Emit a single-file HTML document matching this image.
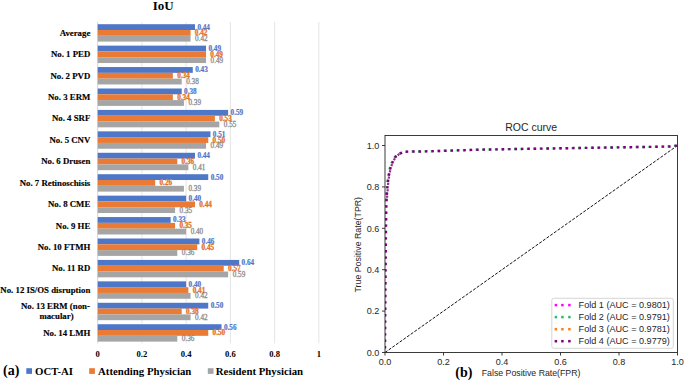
<!DOCTYPE html><html><head><meta charset="utf-8"><style>html,body{margin:0;padding:0;background:#fff;}svg{display:block;}</style></head><body>
<svg width="685" height="381" viewBox="0 0 685 381">
<rect width="685" height="381" fill="#fff"/>
<line x1="141.92" y1="22.00" x2="141.92" y2="343.45" stroke="#dedede" stroke-width="0.8"/>
<line x1="186.14" y1="22.00" x2="186.14" y2="343.45" stroke="#dedede" stroke-width="0.8"/>
<line x1="230.36" y1="22.00" x2="230.36" y2="343.45" stroke="#dedede" stroke-width="0.8"/>
<line x1="274.58" y1="22.00" x2="274.58" y2="343.45" stroke="#dedede" stroke-width="0.8"/>
<line x1="318.80" y1="22.00" x2="318.80" y2="343.45" stroke="#dedede" stroke-width="0.8"/>
<line x1="97.70" y1="22.00" x2="97.70" y2="343.45" stroke="#d0d0d0" stroke-width="0.9"/>
<text x="163.2" y="10.2" font-family='"Liberation Serif", serif' font-weight="bold" font-size="13" text-anchor="middle" fill="#000">IoU</text>
<rect x="97.70" y="24.20" width="97.28" height="5.80" fill="#4F77C8"/>
<text x="197.38" y="29.55" font-family='"Liberation Serif", serif' font-weight="bold" font-size="7.3" textLength="12.6" lengthAdjust="spacingAndGlyphs" fill="#4F77C8" stroke="#4F77C8" stroke-width="0.2">0.44</text>
<rect x="97.70" y="30.00" width="92.86" height="5.80" fill="#E97B35"/>
<text x="194.86" y="35.35" font-family='"Liberation Serif", serif' font-weight="bold" font-size="7.3" textLength="12.6" lengthAdjust="spacingAndGlyphs" fill="#E4732C" stroke="#E4732C" stroke-width="0.3">0.42</text>
<rect x="97.70" y="35.80" width="92.86" height="5.80" fill="#A5A5A5"/>
<text x="195.06" y="41.15" font-family='"Liberation Serif", serif' font-weight="normal" font-size="7.3" textLength="12.6" lengthAdjust="spacingAndGlyphs" fill="#8c8c8c" stroke="#8c8c8c" stroke-width="0.28">0.42</text>
<text x="90.3" y="35.72" font-family='"Liberation Serif", serif' font-weight="bold" font-size="8.8" text-anchor="end" fill="#000" stroke="#000" stroke-width="0.15">Average</text>
<rect x="97.70" y="45.63" width="108.34" height="5.80" fill="#4F77C8"/>
<text x="208.44" y="50.98" font-family='"Liberation Serif", serif' font-weight="bold" font-size="7.3" textLength="12.6" lengthAdjust="spacingAndGlyphs" fill="#4F77C8" stroke="#4F77C8" stroke-width="0.2">0.49</text>
<rect x="97.70" y="51.43" width="108.34" height="5.80" fill="#E97B35"/>
<text x="210.34" y="56.78" font-family='"Liberation Serif", serif' font-weight="bold" font-size="7.3" textLength="12.6" lengthAdjust="spacingAndGlyphs" fill="#E4732C" stroke="#E4732C" stroke-width="0.3">0.49</text>
<rect x="97.70" y="57.23" width="108.34" height="5.80" fill="#A5A5A5"/>
<text x="210.54" y="62.58" font-family='"Liberation Serif", serif' font-weight="normal" font-size="7.3" textLength="12.6" lengthAdjust="spacingAndGlyphs" fill="#8c8c8c" stroke="#8c8c8c" stroke-width="0.28">0.49</text>
<text x="90.3" y="57.14" font-family='"Liberation Serif", serif' font-weight="bold" font-size="8.8" text-anchor="end" fill="#000" stroke="#000" stroke-width="0.15">No. 1 PED</text>
<rect x="97.70" y="67.06" width="95.07" height="5.80" fill="#4F77C8"/>
<text x="195.17" y="72.41" font-family='"Liberation Serif", serif' font-weight="bold" font-size="7.3" textLength="12.6" lengthAdjust="spacingAndGlyphs" fill="#4F77C8" stroke="#4F77C8" stroke-width="0.2">0.43</text>
<rect x="97.70" y="72.86" width="75.17" height="5.80" fill="#E97B35"/>
<text x="177.17" y="78.21" font-family='"Liberation Serif", serif' font-weight="bold" font-size="7.3" textLength="12.6" lengthAdjust="spacingAndGlyphs" fill="#E4732C" stroke="#E4732C" stroke-width="0.3">0.34</text>
<rect x="97.70" y="78.66" width="84.02" height="5.80" fill="#A5A5A5"/>
<text x="186.22" y="84.01" font-family='"Liberation Serif", serif' font-weight="normal" font-size="7.3" textLength="12.6" lengthAdjust="spacingAndGlyphs" fill="#8c8c8c" stroke="#8c8c8c" stroke-width="0.28">0.38</text>
<text x="90.3" y="78.58" font-family='"Liberation Serif", serif' font-weight="bold" font-size="8.8" text-anchor="end" fill="#000" stroke="#000" stroke-width="0.15">No. 2 PVD</text>
<rect x="97.70" y="88.49" width="84.02" height="5.80" fill="#4F77C8"/>
<text x="184.12" y="93.84" font-family='"Liberation Serif", serif' font-weight="bold" font-size="7.3" textLength="12.6" lengthAdjust="spacingAndGlyphs" fill="#4F77C8" stroke="#4F77C8" stroke-width="0.2">0.38</text>
<rect x="97.70" y="94.29" width="75.17" height="5.80" fill="#E97B35"/>
<text x="177.17" y="99.64" font-family='"Liberation Serif", serif' font-weight="bold" font-size="7.3" textLength="12.6" lengthAdjust="spacingAndGlyphs" fill="#E4732C" stroke="#E4732C" stroke-width="0.3">0.34</text>
<rect x="97.70" y="100.09" width="86.23" height="5.80" fill="#A5A5A5"/>
<text x="188.43" y="105.44" font-family='"Liberation Serif", serif' font-weight="normal" font-size="7.3" textLength="12.6" lengthAdjust="spacingAndGlyphs" fill="#8c8c8c" stroke="#8c8c8c" stroke-width="0.28">0.39</text>
<text x="90.3" y="100.00" font-family='"Liberation Serif", serif' font-weight="bold" font-size="8.8" text-anchor="end" fill="#000" stroke="#000" stroke-width="0.15">No. 3 ERM</text>
<rect x="97.70" y="109.92" width="130.45" height="5.80" fill="#4F77C8"/>
<text x="230.55" y="115.27" font-family='"Liberation Serif", serif' font-weight="bold" font-size="7.3" textLength="12.6" lengthAdjust="spacingAndGlyphs" fill="#4F77C8" stroke="#4F77C8" stroke-width="0.2">0.59</text>
<rect x="97.70" y="115.72" width="117.18" height="5.80" fill="#E97B35"/>
<text x="219.18" y="121.07" font-family='"Liberation Serif", serif' font-weight="bold" font-size="7.3" textLength="12.6" lengthAdjust="spacingAndGlyphs" fill="#E4732C" stroke="#E4732C" stroke-width="0.3">0.53</text>
<rect x="97.70" y="121.52" width="121.61" height="5.80" fill="#A5A5A5"/>
<text x="223.81" y="126.87" font-family='"Liberation Serif", serif' font-weight="normal" font-size="7.3" textLength="12.6" lengthAdjust="spacingAndGlyphs" fill="#8c8c8c" stroke="#8c8c8c" stroke-width="0.28">0.55</text>
<text x="90.3" y="121.44" font-family='"Liberation Serif", serif' font-weight="bold" font-size="8.8" text-anchor="end" fill="#000" stroke="#000" stroke-width="0.15">No. 4 SRF</text>
<rect x="97.70" y="131.35" width="112.76" height="5.80" fill="#4F77C8"/>
<text x="212.86" y="136.70" font-family='"Liberation Serif", serif' font-weight="bold" font-size="7.3" textLength="12.6" lengthAdjust="spacingAndGlyphs" fill="#4F77C8" stroke="#4F77C8" stroke-width="0.2">0.51</text>
<rect x="97.70" y="137.15" width="110.55" height="5.80" fill="#E97B35"/>
<text x="212.55" y="142.50" font-family='"Liberation Serif", serif' font-weight="bold" font-size="7.3" textLength="12.6" lengthAdjust="spacingAndGlyphs" fill="#E4732C" stroke="#E4732C" stroke-width="0.3">0.50</text>
<rect x="97.70" y="142.95" width="108.34" height="5.80" fill="#A5A5A5"/>
<text x="210.54" y="148.30" font-family='"Liberation Serif", serif' font-weight="normal" font-size="7.3" textLength="12.6" lengthAdjust="spacingAndGlyphs" fill="#8c8c8c" stroke="#8c8c8c" stroke-width="0.28">0.49</text>
<text x="90.3" y="142.87" font-family='"Liberation Serif", serif' font-weight="bold" font-size="8.8" text-anchor="end" fill="#000" stroke="#000" stroke-width="0.15">No. 5 CNV</text>
<rect x="97.70" y="152.78" width="97.28" height="5.80" fill="#4F77C8"/>
<text x="197.38" y="158.13" font-family='"Liberation Serif", serif' font-weight="bold" font-size="7.3" textLength="12.6" lengthAdjust="spacingAndGlyphs" fill="#4F77C8" stroke="#4F77C8" stroke-width="0.2">0.44</text>
<rect x="97.70" y="158.58" width="79.60" height="5.80" fill="#E97B35"/>
<text x="181.60" y="163.93" font-family='"Liberation Serif", serif' font-weight="bold" font-size="7.3" textLength="12.6" lengthAdjust="spacingAndGlyphs" fill="#E4732C" stroke="#E4732C" stroke-width="0.3">0.36</text>
<rect x="97.70" y="164.38" width="90.65" height="5.80" fill="#A5A5A5"/>
<text x="192.85" y="169.73" font-family='"Liberation Serif", serif' font-weight="normal" font-size="7.3" textLength="12.6" lengthAdjust="spacingAndGlyphs" fill="#8c8c8c" stroke="#8c8c8c" stroke-width="0.28">0.41</text>
<text x="90.3" y="164.29" font-family='"Liberation Serif", serif' font-weight="bold" font-size="8.8" text-anchor="end" fill="#000" stroke="#000" stroke-width="0.15">No. 6 Drusen</text>
<rect x="97.70" y="174.21" width="110.55" height="5.80" fill="#4F77C8"/>
<text x="210.65" y="179.56" font-family='"Liberation Serif", serif' font-weight="bold" font-size="7.3" textLength="12.6" lengthAdjust="spacingAndGlyphs" fill="#4F77C8" stroke="#4F77C8" stroke-width="0.2">0.50</text>
<rect x="97.70" y="180.01" width="57.49" height="5.80" fill="#E97B35"/>
<text x="159.49" y="185.36" font-family='"Liberation Serif", serif' font-weight="bold" font-size="7.3" textLength="12.6" lengthAdjust="spacingAndGlyphs" fill="#E4732C" stroke="#E4732C" stroke-width="0.3">0.26</text>
<rect x="97.70" y="185.81" width="86.23" height="5.80" fill="#A5A5A5"/>
<text x="188.43" y="191.16" font-family='"Liberation Serif", serif' font-weight="normal" font-size="7.3" textLength="12.6" lengthAdjust="spacingAndGlyphs" fill="#8c8c8c" stroke="#8c8c8c" stroke-width="0.28">0.39</text>
<text x="90.3" y="185.72" font-family='"Liberation Serif", serif' font-weight="bold" font-size="8.8" text-anchor="end" fill="#000" stroke="#000" stroke-width="0.15">No. 7 Retinoschisis</text>
<rect x="97.70" y="195.64" width="88.44" height="5.80" fill="#4F77C8"/>
<text x="188.54" y="200.99" font-family='"Liberation Serif", serif' font-weight="bold" font-size="7.3" textLength="12.6" lengthAdjust="spacingAndGlyphs" fill="#4F77C8" stroke="#4F77C8" stroke-width="0.2">0.40</text>
<rect x="97.70" y="201.44" width="97.28" height="5.80" fill="#E97B35"/>
<text x="199.28" y="206.79" font-family='"Liberation Serif", serif' font-weight="bold" font-size="7.3" textLength="12.6" lengthAdjust="spacingAndGlyphs" fill="#E4732C" stroke="#E4732C" stroke-width="0.3">0.44</text>
<rect x="97.70" y="207.24" width="77.38" height="5.80" fill="#A5A5A5"/>
<text x="179.58" y="212.59" font-family='"Liberation Serif", serif' font-weight="normal" font-size="7.3" textLength="12.6" lengthAdjust="spacingAndGlyphs" fill="#8c8c8c" stroke="#8c8c8c" stroke-width="0.28">0.35</text>
<text x="90.3" y="207.16" font-family='"Liberation Serif", serif' font-weight="bold" font-size="8.8" text-anchor="end" fill="#000" stroke="#000" stroke-width="0.15">No. 8 CME</text>
<rect x="97.70" y="217.07" width="72.96" height="5.80" fill="#4F77C8"/>
<text x="173.06" y="222.42" font-family='"Liberation Serif", serif' font-weight="bold" font-size="7.3" textLength="12.6" lengthAdjust="spacingAndGlyphs" fill="#4F77C8" stroke="#4F77C8" stroke-width="0.2">0.33</text>
<rect x="97.70" y="222.87" width="77.38" height="5.80" fill="#E97B35"/>
<text x="179.38" y="228.22" font-family='"Liberation Serif", serif' font-weight="bold" font-size="7.3" textLength="12.6" lengthAdjust="spacingAndGlyphs" fill="#E4732C" stroke="#E4732C" stroke-width="0.3">0.35</text>
<rect x="97.70" y="228.67" width="88.44" height="5.80" fill="#A5A5A5"/>
<text x="190.64" y="234.02" font-family='"Liberation Serif", serif' font-weight="normal" font-size="7.3" textLength="12.6" lengthAdjust="spacingAndGlyphs" fill="#8c8c8c" stroke="#8c8c8c" stroke-width="0.28">0.40</text>
<text x="90.3" y="228.59" font-family='"Liberation Serif", serif' font-weight="bold" font-size="8.8" text-anchor="end" fill="#000" stroke="#000" stroke-width="0.15">No. 9 HE</text>
<rect x="97.70" y="238.50" width="101.71" height="5.80" fill="#4F77C8"/>
<text x="201.81" y="243.85" font-family='"Liberation Serif", serif' font-weight="bold" font-size="7.3" textLength="12.6" lengthAdjust="spacingAndGlyphs" fill="#4F77C8" stroke="#4F77C8" stroke-width="0.2">0.46</text>
<rect x="97.70" y="244.30" width="99.50" height="5.80" fill="#E97B35"/>
<text x="201.50" y="249.65" font-family='"Liberation Serif", serif' font-weight="bold" font-size="7.3" textLength="12.6" lengthAdjust="spacingAndGlyphs" fill="#E4732C" stroke="#E4732C" stroke-width="0.3">0.45</text>
<rect x="97.70" y="250.10" width="79.60" height="5.80" fill="#A5A5A5"/>
<text x="181.80" y="255.45" font-family='"Liberation Serif", serif' font-weight="normal" font-size="7.3" textLength="12.6" lengthAdjust="spacingAndGlyphs" fill="#8c8c8c" stroke="#8c8c8c" stroke-width="0.28">0.36</text>
<text x="90.3" y="250.02" font-family='"Liberation Serif", serif' font-weight="bold" font-size="8.8" text-anchor="end" fill="#000" stroke="#000" stroke-width="0.15">No. 10 FTMH</text>
<rect x="97.70" y="259.93" width="141.50" height="5.80" fill="#4F77C8"/>
<text x="241.60" y="265.28" font-family='"Liberation Serif", serif' font-weight="bold" font-size="7.3" textLength="12.6" lengthAdjust="spacingAndGlyphs" fill="#4F77C8" stroke="#4F77C8" stroke-width="0.2">0.64</text>
<rect x="97.70" y="265.73" width="126.03" height="5.80" fill="#E97B35"/>
<text x="228.03" y="271.08" font-family='"Liberation Serif", serif' font-weight="bold" font-size="7.3" textLength="12.6" lengthAdjust="spacingAndGlyphs" fill="#E4732C" stroke="#E4732C" stroke-width="0.3">0.57</text>
<rect x="97.70" y="271.53" width="130.45" height="5.80" fill="#A5A5A5"/>
<text x="232.65" y="276.88" font-family='"Liberation Serif", serif' font-weight="normal" font-size="7.3" textLength="12.6" lengthAdjust="spacingAndGlyphs" fill="#8c8c8c" stroke="#8c8c8c" stroke-width="0.28">0.59</text>
<text x="90.3" y="271.44" font-family='"Liberation Serif", serif' font-weight="bold" font-size="8.8" text-anchor="end" fill="#000" stroke="#000" stroke-width="0.15">No. 11 RD</text>
<rect x="97.70" y="281.36" width="88.44" height="5.80" fill="#4F77C8"/>
<text x="188.54" y="286.71" font-family='"Liberation Serif", serif' font-weight="bold" font-size="7.3" textLength="12.6" lengthAdjust="spacingAndGlyphs" fill="#4F77C8" stroke="#4F77C8" stroke-width="0.2">0.40</text>
<rect x="97.70" y="287.16" width="90.65" height="5.80" fill="#E97B35"/>
<text x="192.65" y="292.51" font-family='"Liberation Serif", serif' font-weight="bold" font-size="7.3" textLength="12.6" lengthAdjust="spacingAndGlyphs" fill="#E4732C" stroke="#E4732C" stroke-width="0.3">0.41</text>
<rect x="97.70" y="292.96" width="92.86" height="5.80" fill="#A5A5A5"/>
<text x="195.06" y="298.31" font-family='"Liberation Serif", serif' font-weight="normal" font-size="7.3" textLength="12.6" lengthAdjust="spacingAndGlyphs" fill="#8c8c8c" stroke="#8c8c8c" stroke-width="0.28">0.42</text>
<text x="90.3" y="292.87" font-family='"Liberation Serif", serif' font-weight="bold" font-size="8.8" text-anchor="end" fill="#000" stroke="#000" stroke-width="0.15">No. 12 IS/OS disruption</text>
<rect x="97.70" y="302.79" width="110.55" height="5.80" fill="#4F77C8"/>
<text x="210.65" y="308.14" font-family='"Liberation Serif", serif' font-weight="bold" font-size="7.3" textLength="12.6" lengthAdjust="spacingAndGlyphs" fill="#4F77C8" stroke="#4F77C8" stroke-width="0.2">0.50</text>
<rect x="97.70" y="308.59" width="84.02" height="5.80" fill="#E97B35"/>
<text x="186.02" y="313.94" font-family='"Liberation Serif", serif' font-weight="bold" font-size="7.3" textLength="12.6" lengthAdjust="spacingAndGlyphs" fill="#E4732C" stroke="#E4732C" stroke-width="0.3">0.38</text>
<rect x="97.70" y="314.39" width="92.86" height="5.80" fill="#A5A5A5"/>
<text x="195.06" y="319.74" font-family='"Liberation Serif", serif' font-weight="normal" font-size="7.3" textLength="12.6" lengthAdjust="spacingAndGlyphs" fill="#8c8c8c" stroke="#8c8c8c" stroke-width="0.28">0.42</text>
<text x="89.9" y="308.90" font-family='"Liberation Serif", serif' font-weight="bold" font-size="8.8" text-anchor="end" fill="#000" stroke="#000" stroke-width="0.15">No. 13 ERM (non-</text>
<text x="56.5" y="318.90" font-family='"Liberation Serif", serif' font-weight="bold" font-size="8.8" text-anchor="middle" fill="#000" stroke="#000" stroke-width="0.15">macular)</text>
<rect x="97.70" y="324.22" width="123.82" height="5.80" fill="#4F77C8"/>
<text x="223.92" y="329.57" font-family='"Liberation Serif", serif' font-weight="bold" font-size="7.3" textLength="12.6" lengthAdjust="spacingAndGlyphs" fill="#4F77C8" stroke="#4F77C8" stroke-width="0.2">0.56</text>
<rect x="97.70" y="330.02" width="110.55" height="5.80" fill="#E97B35"/>
<text x="212.55" y="335.37" font-family='"Liberation Serif", serif' font-weight="bold" font-size="7.3" textLength="12.6" lengthAdjust="spacingAndGlyphs" fill="#E4732C" stroke="#E4732C" stroke-width="0.3">0.50</text>
<rect x="97.70" y="335.82" width="79.60" height="5.80" fill="#A5A5A5"/>
<text x="181.80" y="341.17" font-family='"Liberation Serif", serif' font-weight="normal" font-size="7.3" textLength="12.6" lengthAdjust="spacingAndGlyphs" fill="#8c8c8c" stroke="#8c8c8c" stroke-width="0.28">0.36</text>
<text x="90.3" y="335.73" font-family='"Liberation Serif", serif' font-weight="bold" font-size="8.8" text-anchor="end" fill="#000" stroke="#000" stroke-width="0.15">No. 14 LMH</text>
<text x="97.70" y="356.7" font-family='"Liberation Serif", serif' font-weight="bold" font-size="8.6" text-anchor="middle" fill="#000">0</text>
<text x="141.92" y="356.7" font-family='"Liberation Serif", serif' font-weight="bold" font-size="8.6" text-anchor="middle" fill="#000">0.2</text>
<text x="186.14" y="356.7" font-family='"Liberation Serif", serif' font-weight="bold" font-size="8.6" text-anchor="middle" fill="#000">0.4</text>
<text x="230.36" y="356.7" font-family='"Liberation Serif", serif' font-weight="bold" font-size="8.6" text-anchor="middle" fill="#000">0.6</text>
<text x="274.58" y="356.7" font-family='"Liberation Serif", serif' font-weight="bold" font-size="8.6" text-anchor="middle" fill="#000">0.8</text>
<text x="318.80" y="356.7" font-family='"Liberation Serif", serif' font-weight="bold" font-size="8.6" text-anchor="middle" fill="#000">1</text>
<text x="3.0" y="375.0" font-family='"Liberation Serif", serif' font-weight="bold" font-size="14" fill="#000">(a)</text>
<rect x="26.3" y="368.2" width="5.7" height="5.7" fill="#4F77C8"/>
<text x="35.0" y="374.8" font-family='"Liberation Serif", serif' font-weight="bold" font-size="10.8" fill="#000">OCT-AI</text>
<rect x="89.2" y="368.2" width="5.7" height="5.7" fill="#E97B35"/>
<text x="98.0" y="374.8" font-family='"Liberation Serif", serif' font-weight="bold" font-size="10.8" fill="#000">Attending Physician</text>
<rect x="207.8" y="368.2" width="5.7" height="5.7" fill="#A5A5A5"/>
<text x="215.8" y="374.8" font-family='"Liberation Serif", serif' font-weight="bold" font-size="10.8" fill="#000">Resident Physician</text>
<line x1="385.00" y1="352.50" x2="677.50" y2="145.50" stroke="#111" stroke-width="1.0" stroke-dasharray="3 1.5"/>
<defs><clipPath id="ax"><rect x="385.00" y="135.50" width="292.50" height="217.00"/></clipPath></defs>
<g clip-path="url(#ax)">
<defs><clipPath id="corner"><rect x="384" y="150" width="19" height="48"/></clipPath></defs>
<g clip-path="url(#corner)">
<polyline points="385.40,352.20 385.84,290.10 386.28,238.35 386.72,207.30 387.15,196.12 387.59,190.74 388.03,184.53 388.91,177.49 390.08,171.07 391.25,166.31 393.30,161.35 395.93,156.59 399.73,153.69 404.41,151.41 429.27,151.00 480.46,149.34 580.50,147.68 670.29,146.23 677.90,145.20" fill="none" stroke="#9a2f86" stroke-width="2.2" stroke-dasharray="2.2 4.2" stroke-dashoffset="5.6" stroke-linecap="butt"/>
</g>
<polyline points="384.40,352.50 384.84,290.40 385.28,238.65 385.72,207.60 386.15,196.42 386.59,191.04 387.03,184.83 387.91,177.79 389.08,171.38 390.25,166.61 392.30,161.65 394.93,156.89 398.73,153.99 403.41,151.71 428.27,151.30 479.46,149.64 579.50,147.98 669.29,146.53 676.90,145.50" fill="none" stroke="#3cb371" stroke-width="2.4" stroke-dasharray="2.4 4.0" stroke-dashoffset="2.3" stroke-linecap="butt" stroke-linejoin="miter"/>
<polyline points="385.00,352.50 385.44,290.40 385.88,238.65 386.32,207.60 386.75,196.42 387.19,191.04 387.63,184.83 388.51,177.79 389.68,171.38 390.85,166.61 392.90,161.65 395.53,156.89 399.33,153.99 404.01,151.71 428.88,151.30 480.06,149.64 580.10,147.98 669.89,146.53 677.50,145.50" fill="none" stroke="#800080" stroke-width="2.4" stroke-dasharray="2.4 4.0" stroke-dashoffset="2.3" stroke-linecap="butt" stroke-linejoin="miter"/>
</g>
<rect x="385.00" y="135.50" width="292.50" height="217.00" fill="none" stroke="#262626" stroke-width="0.9"/>
<line x1="382.00" y1="352.50" x2="385.00" y2="352.50" stroke="#262626" stroke-width="0.9"/>
<text x="379.3" y="355.70" font-family='"Liberation Sans", sans-serif' font-size="8.6" text-anchor="end" textLength="12.6" lengthAdjust="spacingAndGlyphs" fill="#262626">0.0</text>
<line x1="385.00" y1="352.50" x2="385.00" y2="355.50" stroke="#262626" stroke-width="0.9"/>
<text x="385.00" y="365.0" font-family='"Liberation Sans", sans-serif' font-size="8.6" text-anchor="middle" textLength="12.6" lengthAdjust="spacingAndGlyphs" fill="#262626">0.0</text>
<line x1="382.00" y1="311.10" x2="385.00" y2="311.10" stroke="#262626" stroke-width="0.9"/>
<text x="379.3" y="314.30" font-family='"Liberation Sans", sans-serif' font-size="8.6" text-anchor="end" textLength="12.6" lengthAdjust="spacingAndGlyphs" fill="#262626">0.2</text>
<line x1="443.50" y1="352.50" x2="443.50" y2="355.50" stroke="#262626" stroke-width="0.9"/>
<text x="443.50" y="365.0" font-family='"Liberation Sans", sans-serif' font-size="8.6" text-anchor="middle" textLength="12.6" lengthAdjust="spacingAndGlyphs" fill="#262626">0.2</text>
<line x1="382.00" y1="269.70" x2="385.00" y2="269.70" stroke="#262626" stroke-width="0.9"/>
<text x="379.3" y="272.90" font-family='"Liberation Sans", sans-serif' font-size="8.6" text-anchor="end" textLength="12.6" lengthAdjust="spacingAndGlyphs" fill="#262626">0.4</text>
<line x1="502.00" y1="352.50" x2="502.00" y2="355.50" stroke="#262626" stroke-width="0.9"/>
<text x="502.00" y="365.0" font-family='"Liberation Sans", sans-serif' font-size="8.6" text-anchor="middle" textLength="12.6" lengthAdjust="spacingAndGlyphs" fill="#262626">0.4</text>
<line x1="382.00" y1="228.30" x2="385.00" y2="228.30" stroke="#262626" stroke-width="0.9"/>
<text x="379.3" y="231.50" font-family='"Liberation Sans", sans-serif' font-size="8.6" text-anchor="end" textLength="12.6" lengthAdjust="spacingAndGlyphs" fill="#262626">0.6</text>
<line x1="560.50" y1="352.50" x2="560.50" y2="355.50" stroke="#262626" stroke-width="0.9"/>
<text x="560.50" y="365.0" font-family='"Liberation Sans", sans-serif' font-size="8.6" text-anchor="middle" textLength="12.6" lengthAdjust="spacingAndGlyphs" fill="#262626">0.6</text>
<line x1="382.00" y1="186.90" x2="385.00" y2="186.90" stroke="#262626" stroke-width="0.9"/>
<text x="379.3" y="190.10" font-family='"Liberation Sans", sans-serif' font-size="8.6" text-anchor="end" textLength="12.6" lengthAdjust="spacingAndGlyphs" fill="#262626">0.8</text>
<line x1="619.00" y1="352.50" x2="619.00" y2="355.50" stroke="#262626" stroke-width="0.9"/>
<text x="619.00" y="365.0" font-family='"Liberation Sans", sans-serif' font-size="8.6" text-anchor="middle" textLength="12.6" lengthAdjust="spacingAndGlyphs" fill="#262626">0.8</text>
<line x1="382.00" y1="145.50" x2="385.00" y2="145.50" stroke="#262626" stroke-width="0.9"/>
<text x="379.3" y="148.70" font-family='"Liberation Sans", sans-serif' font-size="8.6" text-anchor="end" textLength="12.6" lengthAdjust="spacingAndGlyphs" fill="#262626">1.0</text>
<line x1="677.50" y1="352.50" x2="677.50" y2="355.50" stroke="#262626" stroke-width="0.9"/>
<text x="677.50" y="365.0" font-family='"Liberation Sans", sans-serif' font-size="8.6" text-anchor="middle" textLength="12.6" lengthAdjust="spacingAndGlyphs" fill="#262626">1.0</text>
<text x="531.2" y="130.6" font-family='"Liberation Sans", sans-serif' font-size="10.5" text-anchor="middle" fill="#262626">ROC curve</text>
<text x="531.1" y="375.8" font-family='"Liberation Sans", sans-serif' font-size="8.75" text-anchor="middle" fill="#262626">False Positive Rate(FPR)</text>
<text transform="translate(361.3,244.7) rotate(-90)" x="0" y="0" font-family='"Liberation Sans", sans-serif' font-size="8.8" text-anchor="middle" fill="#262626">True Positive Rate(TPR)</text>
<rect x="551.8" y="298.3" width="121.5" height="50" rx="2" ry="2" fill="#fff" fill-opacity="0.8" stroke="#cccccc" stroke-width="0.8"/>
<rect x="554.65" y="303.85" width="2.5" height="2.5" fill="#ff00ff"/>
<rect x="561.15" y="303.85" width="2.5" height="2.5" fill="#ff00ff"/>
<rect x="568.15" y="303.85" width="2.5" height="2.5" fill="#ff00ff"/>
<text x="578.6" y="308.10" font-family='"Liberation Sans", sans-serif' font-size="9.1" fill="#262626">Fold 1 (AUC = 0.9801)</text>
<rect x="554.65" y="315.85" width="2.5" height="2.5" fill="#3cb371"/>
<rect x="561.15" y="315.85" width="2.5" height="2.5" fill="#3cb371"/>
<rect x="568.15" y="315.85" width="2.5" height="2.5" fill="#3cb371"/>
<text x="578.6" y="320.10" font-family='"Liberation Sans", sans-serif' font-size="9.1" fill="#262626">Fold 2 (AUC = 0.9791)</text>
<rect x="554.65" y="327.95" width="2.5" height="2.5" fill="#ff7f0e"/>
<rect x="561.15" y="327.95" width="2.5" height="2.5" fill="#ff7f0e"/>
<rect x="568.15" y="327.95" width="2.5" height="2.5" fill="#ff7f0e"/>
<text x="578.6" y="332.20" font-family='"Liberation Sans", sans-serif' font-size="9.1" fill="#262626">Fold 3 (AUC = 0.9781)</text>
<rect x="554.65" y="339.95" width="2.5" height="2.5" fill="#800080"/>
<rect x="561.15" y="339.95" width="2.5" height="2.5" fill="#800080"/>
<rect x="568.15" y="339.95" width="2.5" height="2.5" fill="#800080"/>
<text x="578.6" y="344.20" font-family='"Liberation Sans", sans-serif' font-size="9.1" fill="#262626">Fold 4 (AUC = 0.9779)</text>
<text x="455.3" y="376.9" font-family='"Liberation Serif", serif' font-weight="bold" font-size="14" fill="#000">(b)</text>
</svg></body></html>
